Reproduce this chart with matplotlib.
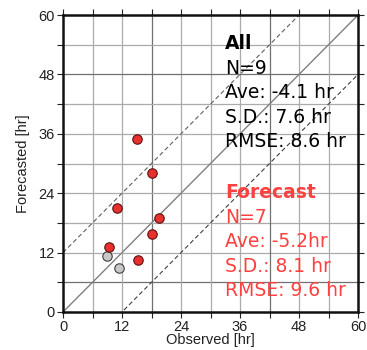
import matplotlib
matplotlib.use("Agg")
import matplotlib.pyplot as plt
import numpy as np

# Observed vs forecasted arrival times [hr]
fc_observed = [15.0, 18.0, 11.0, 19.6, 18.0, 9.3, 15.3]
fc_forecast = [35.0, 28.0, 21.1, 19.0, 15.8, 13.2, 10.5]
other_observed = [8.9, 11.3]
other_forecast = [11.3, 8.8]

tick_values = [0, 12, 24, 36, 48, 60]

all_lines = ["All", "N=9", "Ave: -4.1 hr", "S.D.: 7.6 hr", "RMSE: 8.6 hr"]
fc_lines = ["Forecast", "N=7", "Ave: -5.2hr", "S.D.: 8.1 hr", "RMSE: 9.6 hr"]

fig = plt.figure(figsize=(3.67, 3.5), dpi=100)
ax = fig.add_axes([0.1717, 0.1086, 0.8038, 0.8484])

ax.set_xlim(0, 60)
ax.set_ylim(0, 60)

# grid every 6 hours
dark_x = (18, 42)
dark_y = (6, 48)
for v in np.arange(6, 60, 6):
    ax.axvline(v, color="#707070" if v in dark_x else "#ababab",
               lw=0.9, zorder=0)
    ax.axhline(v, color="#707070" if v in dark_y else "#ababab",
               lw=0.9, zorder=0)

# reference diagonals
d = np.array([0, 60])
ax.plot(d, d, color="#808080", lw=1.0, zorder=1)
ax.plot(d, d + 12, color="#606060", lw=0.8, ls=(0, (4, 2.5)), zorder=1)
ax.plot(d, d - 12, color="#404040", lw=0.8, ls=(0, (4, 2.5)), zorder=1)

ax.plot(other_observed, other_forecast, "o", ms=6.8, mfc="#c8c8c8",
        mec="#404040", mew=0.8, zorder=3, clip_on=False)
ax.plot(fc_observed, fc_forecast, "o", ms=6.8, mfc="#e8302e",
        mec="#5a1010", mew=0.8, zorder=3, clip_on=False)

ax.set_xticks(tick_values)
ax.set_yticks(tick_values)
ax.set_xticks(np.arange(6, 60, 12), minor=True)
ax.set_yticks(np.arange(6, 60, 12), minor=True)
ax.tick_params(which="both", direction="out", length=4, width=0.8,
               labelsize=10.5, colors="#222222", top=True, right=True,
               pad=2)
for lab in ax.get_xticklabels() + ax.get_yticklabels():
    lab.set_family("Liberation Sans")

for s in ax.spines.values():
    s.set_linewidth(1.8)
    s.set_color("#111111")

ax.set_xlabel("Observed [hr]", family="Liberation Sans", fontsize=10.5,
              color="#222222", labelpad=-1)
ax.set_ylabel("Forecasted [hr]", family="Liberation Sans", fontsize=10.5,
              color="#222222", labelpad=6)

step = 4.95
for i, t in enumerate(all_lines):
    ax.text(33, 53.1 - i * step, t, fontsize=13.5, family="DejaVu Sans",
            color="black", fontweight="bold" if i == 0 else "normal",
            va="baseline", ha="left", zorder=4)
for i, t in enumerate(fc_lines):
    ax.text(33, 23.0 - i * step, t, fontsize=13.5, family="DejaVu Sans",
            color="#ff4040", fontweight="bold" if i == 0 else "normal",
            va="baseline", ha="left", zorder=4)

fig.savefig("out.png", dpi=100)
